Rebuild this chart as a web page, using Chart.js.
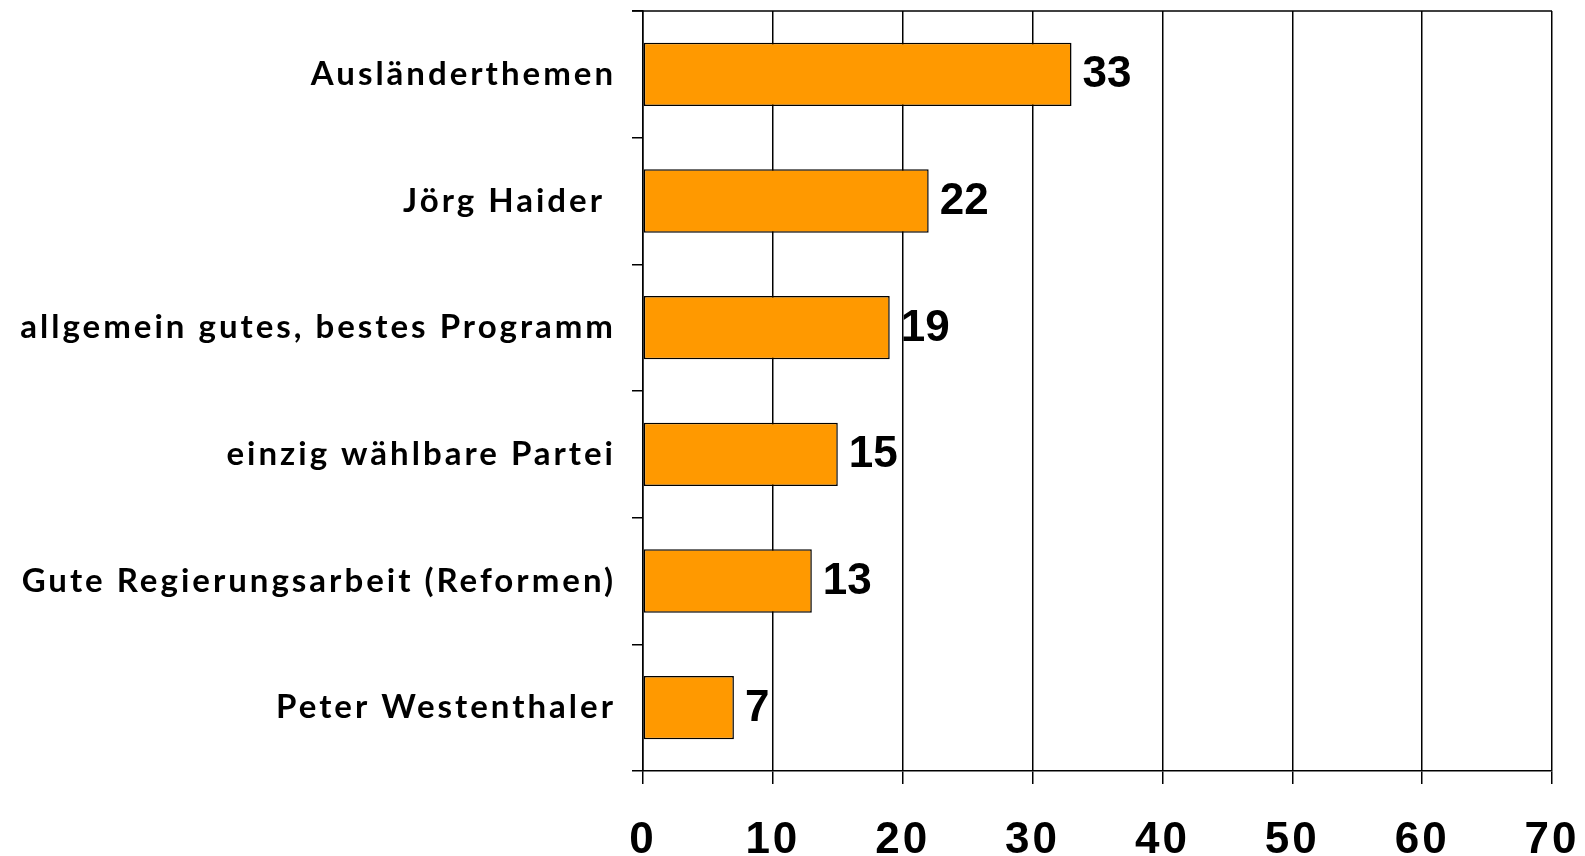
<!DOCTYPE html>
<html>
<head>
<meta charset="utf-8">
<script src="https://cdn.jsdelivr.net/npm/chart.js@4/dist/chart.umd.min.js"></script>
<style>
html,body{margin:0;padding:0;background:#fff;}
#wrap{width:1585px;height:856px;}
</style>
</head>
<body>
<div id="wrap"><canvas id="c" width="1585" height="856"></canvas></div>
<script>
const categories = ["Ausländerthemen", "Jörg Haider ", "allgemein gutes, bestes Programm", "einzig wählbare Partei", "Gute Regierungsarbeit (Reformen)", "Peter Westenthaler"];
const values = [33, 22, 19, 15, 13, 7];
const xTicks = [0, 10, 20, 30, 40, 50, 60, 70];

function noPad(scale) {
  scale.paddingLeft = 0; scale.paddingRight = 0;
  scale.paddingTop = 0; scale.paddingBottom = 0;
}

const valueLabels = {
  id: 'valueLabels',
  beforeDraw(chart) { chart.ctx.letterSpacing = '3px'; },
  afterDatasetsDraw(chart) {
    const ctx = chart.ctx;
    const a = chart.chartArea;
    ctx.save();
    ctx.letterSpacing = '0px';
    // top frame line
    ctx.strokeStyle = '#000';
    ctx.lineWidth = 1.5;
    ctx.beginPath();
    ctx.moveTo(a.left - 11, a.top);
    ctx.lineTo(a.right, a.top);
    ctx.stroke();
    ctx.font = 'bold 44px "Liberation Sans", Arial, sans-serif';
    ctx.fillStyle = '#000';
    ctx.textAlign = 'left';
    ctx.textBaseline = 'middle';
    const meta = chart.getDatasetMeta(0);
    meta.data.forEach((bar, i) => {
      ctx.fillText(String(values[i]), bar.x + 11, bar.y + 1);
    });
    ctx.restore();
  }
};

new Chart(document.getElementById('c'), {
  type: 'bar',
  data: {
    labels: categories,
    datasets: [{
      data: values,
      backgroundColor: '#FF9900',
      borderColor: '#000',
      borderWidth: 1.5,
      borderSkipped: false,
      barPercentage: 0.5,
      categoryPercentage: 1.0
    }]
  },
  options: {
    indexAxis: 'y',
    responsive: false,
    animation: false,
    layout: { padding: { top: 11, right: 33, left: 0, bottom: 0 } },
    plugins: { legend: { display: false }, tooltip: { enabled: false } },
    scales: {
      x: {
        type: 'linear', min: 0, max: 70,
        afterBuildTicks(scale) { scale.ticks = xTicks.map(v => ({ value: v })); },
        afterFit(scale) { scale.height = 85; noPad(scale); },
        grid: { color: '#000', lineWidth: 1.5, tickLength: 13, drawTicks: true },
        border: { display: true, color: '#000', width: 1.5 },
        ticks: { color: '#000', font: { family: '"Liberation Sans", Arial, sans-serif', size: 44, weight: 'bold' }, padding: 30, maxRotation: 0 }
      },
      y: {
        offset: true,
        afterFit(scale) { scale.width = 643; noPad(scale); },
        grid: { display: true, offset: true, drawOnChartArea: false, color: '#000', lineWidth: 1.5, tickLength: 11 },
        border: { display: true, color: '#000', width: 1.5 },
        ticks: { color: '#000', font: { family: 'Lato, sans-serif', size: 33, weight: 'bold' }, padding: 16 }
      }
    }
  },
  plugins: [valueLabels]
});
</script>
</body>
</html>
